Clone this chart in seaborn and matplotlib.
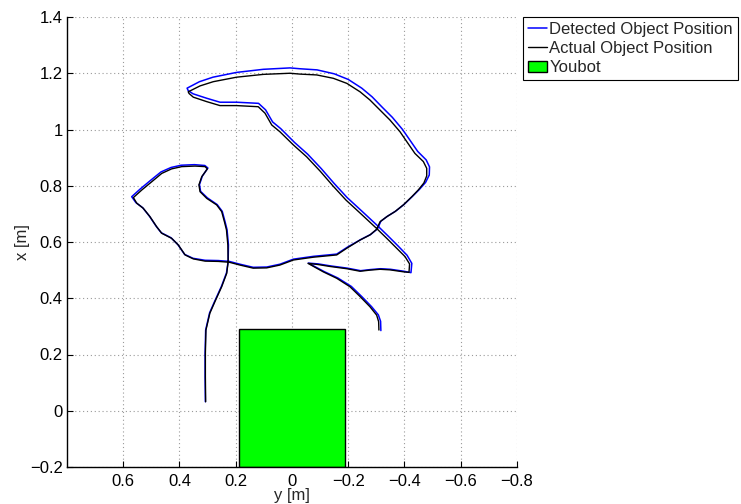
import numpy as np
import pandas as pd
import matplotlib
matplotlib.use("Agg")
import matplotlib.pyplot as plt
from matplotlib.patches import Rectangle
import seaborn as sns

# Actual object trajectory (y [m] horizontal, x [m] vertical)
actual_y = [
    0.307, 0.308, 0.308, 0.306, 0.292, 0.274, 0.250, 0.232, 0.227,
    0.228, 0.233, 0.240, 0.250, 0.268, 0.303, 0.327, 0.331, 0.321, 0.301,
    0.309, 0.345, 0.392, 0.428, 0.463, 0.499, 0.534, 0.564,
    0.552, 0.529, 0.505, 0.481, 0.463, 0.428, 0.404, 0.380, 0.351, 0.309, 0.262,
    0.223, 0.185, 0.138, 0.090, 0.043, -0.005, -0.076, -0.159, -0.195,
    -0.242, -0.277, -0.301, -0.313, -0.337, -0.366, -0.396, -0.426, -0.449, -0.469, -0.479,
    -0.479, -0.467, -0.437, -0.408, -0.384, -0.348, -0.313, -0.277, -0.242, -0.195, -0.147,
    -0.088, -0.028, 0.007, 0.102, 0.197, 0.280, 0.327, 0.369,
    0.366, 0.351, 0.303, 0.256, 0.197, 0.120, 0.096, 0.072, 0.043,
    -0.005, -0.052, -0.100, -0.146, -0.192, -0.242, -0.301, -0.337, -0.372, -0.402, -0.418, -0.416,
    -0.396, -0.348, -0.313, -0.277, -0.242, -0.195, -0.135, -0.092, -0.057,
    -0.111, -0.159, -0.206, -0.242, -0.277, -0.301, -0.308, -0.309,
]
actual_x = [
    0.032, 0.121, 0.204, 0.287, 0.347, 0.388, 0.441, 0.489, 0.530,
    0.589, 0.643, 0.671, 0.708, 0.732, 0.755, 0.779, 0.803, 0.832, 0.860,
    0.868, 0.870, 0.868, 0.860, 0.844, 0.814, 0.785, 0.758,
    0.738, 0.720, 0.690, 0.654, 0.631, 0.613, 0.589, 0.554, 0.540, 0.532, 0.531,
    0.528, 0.518, 0.507, 0.508, 0.518, 0.536, 0.546, 0.554, 0.578,
    0.607, 0.625, 0.645, 0.672, 0.690, 0.708, 0.732, 0.761, 0.785, 0.810, 0.835,
    0.862, 0.886, 0.915, 0.957, 0.992, 1.034, 1.069, 1.105, 1.134, 1.164, 1.182,
    1.194, 1.197, 1.200, 1.196, 1.186, 1.170, 1.155, 1.134,
    1.128, 1.115, 1.099, 1.085, 1.085, 1.081, 1.058, 1.016, 0.992,
    0.945, 0.903, 0.852, 0.799, 0.749, 0.703, 0.648, 0.613, 0.578, 0.548, 0.522, 0.492,
    0.494, 0.501, 0.503, 0.500, 0.496, 0.505, 0.513, 0.520, 0.524,
    0.494, 0.471, 0.441, 0.406, 0.370, 0.340, 0.317, 0.287,
]

# Detected object trajectory
detected_y = [
    0.308, 0.309, 0.309, 0.307, 0.293, 0.275, 0.251, 0.233, 0.227,
    0.226, 0.231, 0.238, 0.248, 0.266, 0.301, 0.325, 0.329, 0.319, 0.299,
    0.310, 0.347, 0.394, 0.430, 0.466, 0.503, 0.539, 0.570,
    0.555, 0.531, 0.507, 0.483, 0.465, 0.430, 0.406, 0.382, 0.352, 0.309, 0.262,
    0.223, 0.185, 0.138, 0.090, 0.043, -0.005, -0.076, -0.159, -0.196,
    -0.245, -0.280, -0.304, -0.316, -0.340, -0.369, -0.399, -0.429, -0.453, -0.475, -0.488,
    -0.489, -0.477, -0.447, -0.418, -0.393, -0.357, -0.321, -0.285, -0.248, -0.200, -0.150,
    -0.089, -0.028, 0.007, 0.102, 0.197, 0.281, 0.329, 0.373,
    0.369, 0.352, 0.303, 0.256, 0.197, 0.119, 0.094, 0.069, 0.040,
    -0.009, -0.056, -0.104, -0.150, -0.196, -0.246, -0.305, -0.342, -0.378, -0.409, -0.426, -0.423,
    -0.398, -0.350, -0.315, -0.279, -0.244, -0.197, -0.137, -0.094, -0.058,
    -0.114, -0.163, -0.211, -0.248, -0.283, -0.307, -0.315, -0.316,
]
detected_x = [
    0.032, 0.121, 0.204, 0.287, 0.348, 0.389, 0.442, 0.490, 0.531,
    0.590, 0.644, 0.672, 0.709, 0.733, 0.757, 0.780, 0.804, 0.834, 0.863,
    0.872, 0.875, 0.873, 0.865, 0.849, 0.819, 0.789, 0.761,
    0.740, 0.722, 0.692, 0.656, 0.633, 0.615, 0.591, 0.556, 0.542, 0.535, 0.534,
    0.531, 0.521, 0.510, 0.511, 0.521, 0.539, 0.549, 0.557, 0.581,
    0.609, 0.627, 0.647, 0.674, 0.692, 0.710, 0.734, 0.763, 0.787, 0.812, 0.838,
    0.867, 0.892, 0.922, 0.964, 1.000, 1.043, 1.079, 1.116, 1.147, 1.178, 1.198,
    1.212, 1.216, 1.219, 1.214, 1.203, 1.186, 1.170, 1.147,
    1.138, 1.127, 1.111, 1.097, 1.097, 1.093, 1.070, 1.027, 1.003,
    0.954, 0.912, 0.861, 0.808, 0.758, 0.712, 0.657, 0.621, 0.585, 0.553, 0.524, 0.491,
    0.496, 0.503, 0.505, 0.502, 0.498, 0.507, 0.515, 0.522, 0.525,
    0.495, 0.472, 0.442, 0.406, 0.370, 0.341, 0.318, 0.285,
]

# Robot footprint
youbot_y = [-0.19, 0.19]
youbot_x = [-0.2, 0.29]

x_ticks = [0.6, 0.4, 0.2, 0, -0.2, -0.4, -0.6, -0.8]
x_ticklabels = ["0.6", "0.4", "0.2", "0", "\u22120.2", "\u22120.4", "\u22120.6", "\u22120.8"]
y_ticks = [-0.2, 0, 0.2, 0.4, 0.6, 0.8, 1.0, 1.2, 1.4]
y_ticklabels = ["\u22120.2", "0", "0.2", "0.4", "0.6", "0.8", "1", "1.2", "1.4"]

sns.set_style("white")
plt.rcParams["font.family"] = ["Liberation Sans", "DejaVu Sans"]
plt.rcParams["font.size"] = 12

fig = plt.figure(figsize=(7.41, 5.04), dpi=100)
ax = fig.add_axes([67 / 741, 37 / 504, 450 / 741, 450 / 504])

det = pd.DataFrame({"y": detected_y, "x": detected_x})
act = pd.DataFrame({"y": actual_y, "x": actual_x})

sns.lineplot(data=det, x="y", y="x", sort=False, estimator=None, color="#0000ff",
             linewidth=1.1, ax=ax, label="Detected Object Position", zorder=3)
sns.lineplot(data=act, x="y", y="x", sort=False, estimator=None, color="black",
             linewidth=1.0, ax=ax, label="Actual Object Position", zorder=4)

rect = Rectangle((youbot_y[0], youbot_x[0]), youbot_y[1] - youbot_y[0],
                 youbot_x[1] - youbot_x[0], facecolor="#00ff00", edgecolor="black",
                 linewidth=1.0, zorder=2, label="Youbot")
ax.add_patch(rect)

ax.set_xlim(0.8, -0.8)
ax.set_ylim(-0.2, 1.4)
ax.set_xticks(x_ticks)
ax.set_xticklabels(x_ticklabels)
ax.set_yticks(y_ticks)
ax.set_yticklabels(y_ticklabels)

ax.grid(True, linestyle=(0, (1, 2.5)), color="#9a9a9a", linewidth=0.8)
ax.set_axisbelow(True)
for side in ["top", "right"]:
    ax.spines[side].set_visible(False)
for side in ["left", "bottom"]:
    ax.spines[side].set_color("black")
    ax.spines[side].set_linewidth(1.0)
ax.tick_params(direction="in", length=4, width=0.8, colors="black",
               labelsize=12, left=True, bottom=True)
ax.tick_params(axis="y", pad=3)
ax.tick_params(axis="x", pad=5)

ax.set_xlabel("y [m]", fontsize=12, labelpad=-1)
ax.set_ylabel("x [m]", fontsize=12, labelpad=0)

leg = ax.legend(loc="upper right", bbox_to_anchor=(738 / 741, 1 - 17 / 504),
                bbox_transform=fig.transFigure, borderaxespad=0, frameon=True,
                fancybox=False, framealpha=1, edgecolor="black", fontsize=12,
                handlelength=1.15, handletextpad=0.15, labelspacing=0.25,
                borderpad=0.3)
leg.get_frame().set_linewidth(0.8)

fig.savefig("out.png", dpi=100, facecolor="white")
